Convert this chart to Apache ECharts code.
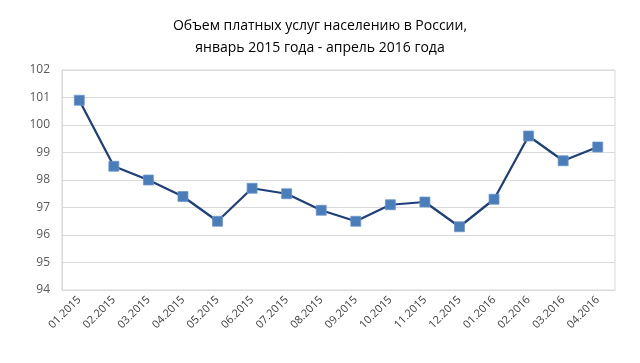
<!DOCTYPE html>
<html><head><meta charset="utf-8">
<script src="https://cdn.jsdelivr.net/npm/echarts@6/dist/echarts.min.js"></script>
<style>html,body{margin:0;padding:0;background:#fff}#c{width:640px;height:363px}</style>
</head><body><div id="c"></div>
<script>
const categories = ["01.2015","02.2015","03.2015","04.2015","05.2015","06.2015","07.2015","08.2015","09.2015","10.2015","11.2015","12.2015","01.2016","02.2016","03.2016","04.2016"];
const values = [100.9, 98.5, 98.0, 97.4, 96.5, 97.7, 97.5, 96.9, 96.5, 97.1, 97.2, 96.3, 97.3, 99.6, 98.7, 99.2];
const titleLines = ["Объем платных услуг населению в России,", "январь 2015 года - апрель 2016 года"];
const yMin = 94, yMax = 102, yStep = 1;

const chart = echarts.init(document.getElementById('c'), null, {renderer: 'canvas'});
chart.setOption({
  animation: false,
  backgroundColor: '#fff',
  title: {
    text: titleLines.join('\n'),
    left: 'center', top: 10,
    textStyle: {fontFamily: 'Open Sans', fontSize: 14, fontWeight: 'normal', color: '#000', lineHeight: 22}
  },
  grid: {left: 62, right: 25, top: 70, bottom: 73, show: true, borderColor: '#d9d9d9', borderWidth: 1},
  xAxis: {
    type: 'category', data: categories, boundaryGap: true,
    axisLine: {lineStyle: {color: '#d9d9d9'}},
    axisTick: {show: false},
    axisLabel: {rotate: 45, color: '#404040', fontFamily: 'Open Sans', fontSize: 11, margin: 8, interval: 0}
  },
  yAxis: {
    type: 'value', min: yMin, max: yMax, interval: yStep,
    axisLine: {show: true, lineStyle: {color: '#d9d9d9'}},
    axisTick: {show: false},
    splitLine: {lineStyle: {color: '#d9d9d9'}},
    axisLabel: {color: '#595959', fontFamily: 'Open Sans', fontSize: 12, margin: 12}
  },
  series: [{
    type: 'line', data: values,
    lineStyle: {color: '#1f3e7c', width: 2.25},
    symbol: 'rect', symbolSize: 10,
    itemStyle: {color: '#4a7ebb', borderColor: '#6c95c8', borderWidth: 0.75}
  }]
});
</script></body></html>
